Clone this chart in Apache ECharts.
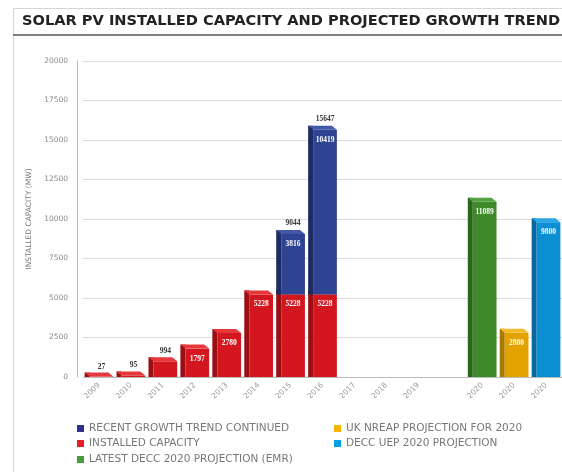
<!DOCTYPE html>
<html><head><meta charset="utf-8">
<script src="https://cdn.jsdelivr.net/npm/echarts@6/dist/echarts.min.js"></script>
<style>html,body{margin:0;padding:0;background:#fff}#c{width:562px;height:472px}</style>
</head><body><div id="c"></div>
<script>
var categories = ['2009','2010','2011','2012','2013','2014','2015','2016','2017','2018','2019','','2020','2020','2020'];
var installed = [27, 95, 994, 1797, 2780, 5228, 5228, 5228, null, null, null, null, null, null, null];
var recentGrowth = [null, null, null, null, null, null, 3816, 10419, null, null, null, null, null, null, null];
var deccEmr = [null, null, null, null, null, null, null, null, null, null, null, null, 11089, null, null];
var ukNreap = [null, null, null, null, null, null, null, null, null, null, null, null, null, 2800, null];
var deccUep = [null, null, null, null, null, null, null, null, null, null, null, null, null, null, 9800];
var yTicks = [0, 2500, 5000, 7500, 10000, 12500, 15000, 17500, 20000];

var names = {
  blue: 'RECENT GROWTH TREND CONTINUED',
  red: 'INSTALLED CAPACITY',
  green: 'LATEST DECC 2020 PROJECTION (EMR)',
  gold: 'UK NREAP PROJECTION FOR 2020',
  cyan: 'DECC UEP 2020 PROJECTION'
};
var pal = {
  blue: {front: '#2e4492', side: '#1d2a63', top: '#4258a6', legend: '#2e3192'},
  red: {front: '#d4171e', side: '#9a0f14', top: '#e5373c', legend: '#e31e24'},
  green: {front: '#3e8a2b', side: '#2a661c', top: '#55a040', legend: '#4a9a3a'},
  gold: {front: '#e2a300', side: '#a87a00', top: '#f0ba2a', legend: '#f7b500'},
  cyan: {front: '#0c8fd2', side: '#0867a0', top: '#2aa6e6', legend: '#00a0e3'}
};

function buildData(values, bases) {
  var out = [];
  values.forEach(function (v, i) {
    if (v == null) return;
    var b = bases ? (bases[i] || 0) : 0;
    out.push([i, b, b + v, v]);
  });
  return out;
}

var valFont = 'bold 7.5px "Liberation Serif", serif';
function makeRender(key, showTotal) {
  var c = pal[key];
  return function (params, api) {
    var idx = api.value(0), base = api.value(1), top = api.value(2), val = api.value(3);
    var p0 = api.coord([idx, base]);
    var p1 = api.coord([idx, top]);
    var bw = api.size([1, 0])[0] * 0.9;
    var x0 = p0[0] - bw / 2;
    var s = 5, d = 4;
    var yb = p0[1], yt = p1[1];
    var children = [];
    children.push({type: 'rect', shape: {x: x0, y: yt - d, width: s, height: yb - yt + d}, style: {fill: c.side}});
    children.push({type: 'rect', shape: {x: x0 + s, y: yt, width: bw - s, height: yb - yt}, style: {fill: c.front}});
    children.push({type: 'polygon', shape: {points: [[x0, yt - d], [x0 + bw - s, yt - d], [x0 + bw, yt], [x0 + s, yt]]}, style: {fill: c.top}});
    var cx = x0 + s + (bw - s) / 2;
    var label = String(val);
    if (yb - yt > 22) {
      children.push({type: 'text', style: {text: label, x: cx, y: yt + 10, align: 'center', verticalAlign: 'middle', fill: '#ffffff', font: valFont}});
    } else {
      children.push({type: 'text', style: {text: label, x: cx, y: yt - d - 6, align: 'center', verticalAlign: 'middle', fill: '#333', font: valFont}});
    }
    if (showTotal) {
      children.push({type: 'text', style: {text: String(top), x: cx, y: yt - d - 7, align: 'center', verticalAlign: 'middle', fill: '#333', font: valFont}});
    }
    return {type: 'group', children: children};
  };
}

function series(key, data, showTotal) {
  return {
    type: 'custom', name: names[key], data: data,
    encode: {x: 0, y: [1, 2]},
    itemStyle: {color: pal[key].legend},
    renderItem: makeRender(key, showTotal)
  };
}

var legendText = {color: '#777', fontSize: 10.5, fontFamily: 'DejaVu Sans, sans-serif'};
function legendItem(key, left, top) {
  return {orient: 'horizontal', left: left, top: top, itemWidth: 7, itemHeight: 7, itemGap: 5, padding: 0,
    textStyle: legendText, icon: 'rect', data: [names[key]]};
}

var chart = echarts.init(document.getElementById('c'), null, {renderer: 'canvas'});
chart.setOption({
  animation: false,
  backgroundColor: '#fff',
  graphic: [
    {type: 'rect', shape: {x: 13.5, y: 8.5, width: 600, height: 470}, style: {fill: 'none', stroke: '#d6d6d6', lineWidth: 1}, z: -1},
    {type: 'line', shape: {x1: 13, y1: 35, x2: 562, y2: 35}, style: {stroke: '#555', lineWidth: 1.5}},
    {type: 'text', left: 22, top: 14, style: {text: 'SOLAR PV INSTALLED CAPACITY AND PROJECTED GROWTH TREND', fill: '#222', font: 'bold 14.6px "DejaVu Sans", sans-serif'}}
  ],
  grid: {left: 83, top: 61, bottom: 95, right: -11, containLabel: false},
  xAxis: {
    type: 'category', data: categories,
    axisLine: {lineStyle: {color: '#bbb'}},
    axisTick: {show: false},
    axisLabel: {rotate: 45, color: '#999', fontSize: 7.5, margin: 7, interval: 0, fontFamily: 'DejaVu Sans, sans-serif'}
  },
  yAxis: {
    type: 'value', min: yTicks[0], max: yTicks[yTicks.length - 1], interval: yTicks[1] - yTicks[0],
    offset: 6,
    name: 'INSTALLED CAPACITY (MW)', nameLocation: 'middle', nameGap: 41,
    nameTextStyle: {color: '#777', fontSize: 7.5, fontFamily: 'DejaVu Sans, sans-serif'},
    axisLine: {show: true, lineStyle: {color: '#bbb'}},
    axisTick: {show: false},
    splitLine: {lineStyle: {color: '#dcdcdc'}},
    axisLabel: {color: '#888', fontSize: 7.5, margin: 9, fontFamily: 'DejaVu Sans, sans-serif', formatter: function (v) { return String(v); }}
  },
  legend: [
    legendItem('blue', 77, 423),
    legendItem('red', 77, 438),
    legendItem('green', 77, 454),
    legendItem('gold', 334, 423),
    legendItem('cyan', 334, 438)
  ],
  series: [
    series('red', buildData(installed, null), false),
    series('blue', buildData(recentGrowth, installed), true),
    series('green', buildData(deccEmr, null), false),
    series('gold', buildData(ukNreap, null), false),
    series('cyan', buildData(deccUep, null), false)
  ]
});
</script>
</body></html>
